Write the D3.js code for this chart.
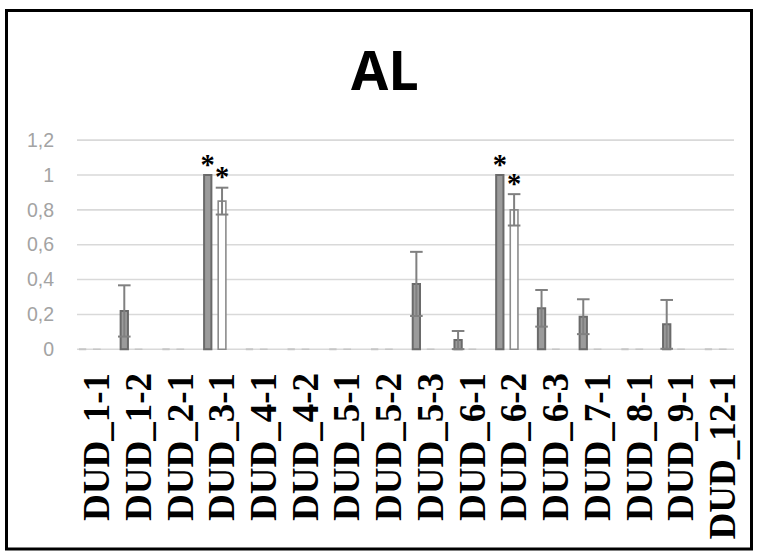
<!DOCTYPE html>
<html>
<head>
<meta charset="utf-8">
<script src="https://cdn.jsdelivr.net/npm/d3@7"></script>
<style>
  html, body { margin: 0; padding: 0; background: #ffffff; }
  svg { display: block; }
</style>
</head>
<body>
<svg id="chart" width="758" height="555"></svg>
<script>
// Categories (sample codes) along the x axis
const categories = ["DUD_1-1", "DUD_1-2", "DUD_2-1", "DUD_3-1", "DUD_4-1", "DUD_4-2",
  "DUD_5-1", "DUD_5-2", "DUD_5-3", "DUD_6-1", "DUD_6-2", "DUD_6-3",
  "DUD_7-1", "DUD_8-1", "DUD_9-1", "DUD_12-1"];

// Series A (grey bars) and its error values
const seriesA = [0, 0.22, 0, 1.0, 0, 0, 0, 0, 0.375, 0.053, 1.0, 0.235, 0.187, 0, 0.143, 0];
const errorA  = [0, 0.147, 0, 0, 0, 0, 0, 0, 0.184, 0.052, 0, 0.105, 0.10, 0, 0.14, 0];

// Series B (white bars) and its error values
const seriesB = [0, 0, 0, 0.85, 0, 0, 0, 0, 0, 0, 0.80, 0, 0, 0, 0, 0];
const errorB  = [0, 0, 0, 0.077, 0, 0, 0, 0, 0, 0, 0.09, 0, 0, 0, 0, 0];

// Significant results, marked with an asterisk
const starsA = ["DUD_3-1", "DUD_6-2"];
const starsB = ["DUD_3-1", "DUD_6-2"];

// Y axis ticks
const yTicks = [0, 0.2, 0.4, 0.6, 0.8, 1, 1.2];

const title = "AL";

const svg = d3.select("#chart");

// Outer frame
svg.append("rect")
  .attr("x", 6.5).attr("y", 10.5)
  .attr("width", 745).attr("height", 538.5)
  .attr("fill", "#ffffff")
  .attr("stroke", "#000000")
  .attr("stroke-width", 3);

const plotLeft = 77, plotRight = 734;

const y = d3.scaleLinear().domain([0, 1.2]).range([349.3, 140.1]);

const x = d3.scaleBand().domain(categories).range([76, 743.6]);
const seriesNames = ["A", "B"];
// each group holds the grey bar then the white bar, left of the category centre
const xSub = d3.scaleBand().domain(seriesNames)
  .range([-21.45, 7.15]).paddingInner(0.35).paddingOuter(0.175);

const cx = c => x(c) + x.bandwidth() / 2;

const locale = d3.formatLocale({ decimal: ",", thousands: " ", grouping: [3], currency: ["", " €"] });
const fmt = locale.format("~g");

// Title
svg.append("text")
  .attr("x", 385).attr("y", 90)
  .attr("text-anchor", "middle")
  .attr("font-family", "'Open Sans', 'Liberation Sans', sans-serif")
  .attr("font-weight", 700)
  .attr("font-size", 54)
  .attr("fill", "#000000")
  .text(title);

// Gridlines
svg.append("g").selectAll("line").data(yTicks).join("line")
  .attr("x1", plotLeft).attr("x2", plotRight)
  .attr("y1", d => y(d)).attr("y2", d => y(d))
  .attr("stroke", "#d9d9d9").attr("stroke-width", 1.6);

// Y axis labels
const yAxis = d3.axisLeft(y).tickValues(yTicks).tickFormat(fmt).tickSize(0).tickPadding(0);
const gy = svg.append("g").attr("transform", "translate(54,0)").call(yAxis);
gy.select(".domain").remove();
gy.selectAll("text")
  .attr("font-family", "'Liberation Sans', Arial, sans-serif")
  .attr("font-size", 19.5)
  .attr("fill", "#a3a3a3");

// Bars
const rows = categories.map((c, i) => ({
  c,
  values: [
    { s: "A", v: seriesA[i], e: errorA[i], star: starsA.includes(c) },
    { s: "B", v: seriesB[i], e: errorB[i], star: starsB.includes(c) }
  ]
}));

const style = {
  A: { fill: "#9b9b9b", stroke: "#6a6a6a", sw: 2 },
  B: { fill: "#ffffff", stroke: "#8c8c8c", sw: 1.6 }
};

const groups = svg.append("g").selectAll("g").data(rows).join("g")
  .attr("transform", d => `translate(${cx(d.c)},0)`);

groups.selectAll("path.bar").data(d => d.values).join("path")
  .attr("class", "bar")
  .attr("d", d => {
    const sw = style[d.s].sw;
    const x0 = xSub(d.s) + sw / 2, x1 = xSub(d.s) + xSub.bandwidth() - sw / 2;
    const y0 = y(0), y1 = y(d.v);
    return `M${x0},${y0}V${y1}H${x1}V${y0}Z`;
  })
  .attr("fill", d => style[d.s].fill)
  // empty bars collapse onto the baseline as a faint dash
  .attr("stroke", d => d.v > 0 ? style[d.s].stroke : "#c6c6c6")
  .attr("stroke-width", d => style[d.s].sw);

// Error bars (both directions, capped)
const errs = groups.selectAll("g.err").data(d => d.values.filter(v => v.e > 0)).join("g")
  .attr("class", "err")
  .attr("stroke", "#808080").attr("stroke-width", 2);
const capHalf = 6.3;
errs.append("line")
  .attr("x1", d => xSub(d.s) + xSub.bandwidth() / 2)
  .attr("x2", d => xSub(d.s) + xSub.bandwidth() / 2)
  .attr("y1", d => y(d.v - d.e)).attr("y2", d => y(d.v + d.e));
errs.append("line")
  .attr("x1", d => xSub(d.s) + xSub.bandwidth() / 2 - capHalf)
  .attr("x2", d => xSub(d.s) + xSub.bandwidth() / 2 + capHalf)
  .attr("y1", d => y(d.v + d.e)).attr("y2", d => y(d.v + d.e));
errs.append("line")
  .attr("x1", d => xSub(d.s) + xSub.bandwidth() / 2 - capHalf)
  .attr("x2", d => xSub(d.s) + xSub.bandwidth() / 2 + capHalf)
  .attr("y1", d => y(d.v - d.e)).attr("y2", d => y(d.v - d.e));

// Asterisks over significant bars
const starSize = 28.5;
groups.selectAll("text.star").data(d => d.values.filter(v => v.star)).join("text")
  .attr("class", "star")
  .attr("x", d => xSub(d.s) + xSub.bandwidth() / 2)
  .attr("y", d => y(d.v + d.e) - 9 + 0.27 * starSize)
  .attr("text-anchor", "middle")
  .attr("font-family", "'Liberation Serif', 'Times New Roman', serif")
  .attr("font-weight", 700)
  .attr("font-size", starSize)
  .attr("fill", "#000000")
  .text("*");

// Category labels, rotated
svg.append("g").selectAll("text").data(categories).join("text")
  .attr("transform", d => `translate(${cx(d)},373) rotate(-90)`)
  .attr("dy", "0.33em")
  .attr("text-anchor", "end")
  .attr("font-family", "'Liberation Serif', 'Times New Roman', serif")
  .attr("font-weight", 700)
  .attr("font-size", 37)
  .attr("fill", "#000000")
  .text(d => d);
</script>
</body>
</html>
